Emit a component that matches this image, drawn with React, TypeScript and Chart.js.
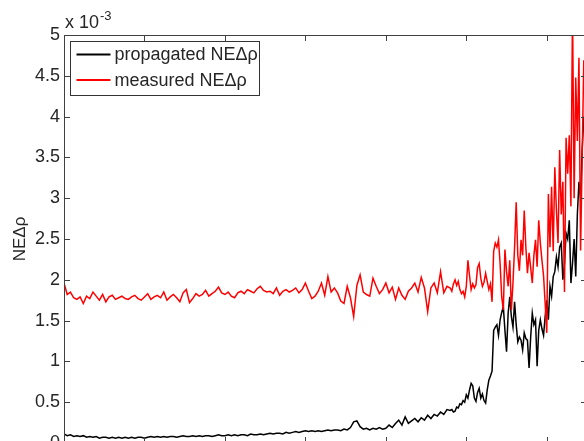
import React, { useEffect, useRef } from "react";
import { Chart, registerables } from "chart.js";

Chart.register(...registerables);

// Band-index grid: coarse samples every 4 up to 476, dense samples every 2 from 480
const coarseStep = 4;
const coarseCount = 120;
const denseStart = 480;
const denseStep = 2;

// measured NEΔρ (x 10^-3)
const measuredNE = [
  1.96, 1.82, 1.85, 1.78, 1.76, 1.79, 1.71, 1.80, 1.77, 1.85,
  1.80, 1.75, 1.82, 1.73, 1.79, 1.81, 1.76, 1.78, 1.80, 1.77,
  1.76, 1.79, 1.81, 1.77, 1.75, 1.79, 1.83, 1.76, 1.79, 1.81,
  1.78, 1.85, 1.75, 1.79, 1.82, 1.78, 1.73, 1.84, 1.88, 1.72,
  1.77, 1.83, 1.80, 1.82, 1.87, 1.80, 1.83, 1.86, 1.91, 1.84,
  1.82, 1.85, 1.80, 1.78, 1.84, 1.86, 1.83, 1.88, 1.86, 1.84,
  1.89, 1.92, 1.87, 1.85, 1.86, 1.83, 1.90, 1.81, 1.86, 1.88,
  1.85, 1.87, 1.90, 1.84, 1.88, 1.96, 1.86, 1.77, 1.80, 1.86,
  1.96, 1.81, 2.04, 1.85, 1.90, 1.84, 1.74, 1.71, 1.92, 1.78,
  1.55, 1.93, 2.06, 1.85, 1.82, 1.80, 2.02, 1.92, 1.83, 1.88,
  1.96, 1.84, 1.91, 1.76, 1.90, 1.81, 1.76, 1.86, 1.90, 1.96,
  1.85, 2.03, 1.90, 1.61, 1.90, 1.96, 1.84, 2.10, 1.84, 1.92,
  // dense part
  1.90, 1.86, 1.95, 2.00, 1.93, 1.98, 1.88, 1.83, 1.86, 1.79,
  1.92, 2.24, 2.05, 1.88, 1.95, 1.90, 1.94, 2.15, 2.20, 2.02,
  1.92, 1.97, 2.08, 1.98, 1.88, 1.95, 1.73, 2.35, 2.45, 2.40,
  2.49, 2.20, 1.79, 1.63, 2.37, 2.10, 1.92, 2.24, 1.63, 1.96,
  2.40, 2.95, 2.30, 2.11, 2.49, 2.30, 2.85, 2.40, 2.08, 2.33,
  2.15, 1.96, 2.30, 2.49, 2.16, 2.73, 2.45, 2.24, 2.05, 1.71,
  1.35, 3.05, 2.40, 3.14, 2.35, 3.38, 2.85, 2.45, 3.59, 2.80,
  3.20, 1.85, 3.74, 3.30, 3.77, 2.90, 5.30, 3.00, 4.48, 3.70,
  4.72, 2.36, 3.50, 4.69, 4.10, 3.60,
];

// propagated NEΔρ (x 10^-3)
const propagatedNE = [
  0.11, 0.09, 0.10, 0.08, 0.09, 0.08, 0.09, 0.07, 0.08, 0.07,
  0.08, 0.06, 0.07, 0.07, 0.06, 0.07, 0.06, 0.07, 0.06, 0.07,
  0.06, 0.07, 0.06, 0.07, 0.07, 0.06, 0.07, 0.08, 0.07, 0.08,
  0.07, 0.08, 0.07, 0.08, 0.08, 0.07, 0.08, 0.09, 0.08, 0.08,
  0.09, 0.08, 0.09, 0.08, 0.09, 0.09, 0.08, 0.09, 0.10, 0.09,
  0.09, 0.10, 0.09, 0.10, 0.09, 0.10, 0.10, 0.09, 0.11, 0.10,
  0.10, 0.11, 0.10, 0.11, 0.12, 0.11, 0.12, 0.12, 0.11, 0.13,
  0.12, 0.13, 0.14, 0.13, 0.14, 0.15, 0.14, 0.15, 0.14, 0.15,
  0.14, 0.15, 0.16, 0.15, 0.16, 0.16, 0.15, 0.17, 0.16, 0.19,
  0.26, 0.27, 0.20, 0.17, 0.18, 0.16, 0.18, 0.17, 0.19, 0.17,
  0.18, 0.22, 0.19, 0.24, 0.28, 0.22, 0.32, 0.24, 0.27, 0.30,
  0.26, 0.31, 0.28, 0.34, 0.30, 0.35, 0.33, 0.38, 0.35, 0.41,
  // dense part
  0.40, 0.41, 0.38, 0.39, 0.44, 0.43, 0.48, 0.47, 0.52, 0.50,
  0.59, 0.55, 0.65, 0.73, 0.70, 0.55, 0.51, 0.62, 0.67, 0.55,
  0.60, 0.52, 0.49, 0.65, 0.77, 0.82, 0.88, 1.38, 1.42, 1.45,
  1.32, 1.51, 1.60, 1.67, 1.38, 1.12, 1.59, 1.79, 1.55, 1.42,
  1.73, 1.45, 1.24, 1.30, 1.26, 1.14, 1.35, 1.28, 1.26, 0.92,
  1.30, 1.59, 1.45, 1.51, 0.94, 1.38, 1.51, 1.40, 1.32, 1.55,
  1.75, 1.51, 1.92, 1.80, 2.04, 2.10, 2.28, 2.16, 2.40, 2.45,
  2.00, 2.20, 2.57, 2.50, 2.73, 1.96, 2.20, 2.50, 2.04, 2.80,
  3.20, 3.00, 3.60, 4.00, 3.70, 3.50,
];

const xMin = 0;
const xMax = 650;
const xTickStep = 100;
const yMin = 0;
const yMax = 5;
const yTickStep = 0.5;

const seriesLabels = ["propagated NE\u0394\u03c1", "measured NE\u0394\u03c1"];
const seriesColors = ["#000000", "#ff0000"];
const yAxisTitle = "NE\u0394\u03c1";
const exponentBase = "x 10";
const exponentPower = "-3";

const FONT = '"Liberation Sans", Arial, Helvetica, sans-serif';
const TEXT_COLOR = "#262626";
const AXIS_COLOR = "#404040";

const matlabFrame = {
  id: "matlabFrame",
  afterDatasetsDraw(chart: any) {
    const { ctx, chartArea, scales } = chart;
    const { left, right, top, bottom } = chartArea;
    const x = scales.x;
    const y = scales.y;
    const tickLen = 6;
    ctx.save();
    ctx.strokeStyle = AXIS_COLOR;
    ctx.lineWidth = 1;
    ctx.beginPath();
    ctx.rect(Math.round(left) + 0.5, Math.round(top) + 0.5, Math.round(right - left), Math.round(bottom - top));
    ctx.stroke();
    ctx.beginPath();
    x.ticks.forEach((t: any) => {
      const px = Math.round(x.getPixelForValue(t.value)) + 0.5;
      ctx.moveTo(px, bottom);
      ctx.lineTo(px, bottom - tickLen);
      ctx.moveTo(px, top);
      ctx.lineTo(px, top + tickLen);
    });
    y.ticks.forEach((t: any) => {
      const py = Math.round(y.getPixelForValue(t.value)) + 0.5;
      ctx.moveTo(left, py);
      ctx.lineTo(left + tickLen, py);
      ctx.moveTo(right, py);
      ctx.lineTo(right - tickLen, py);
    });
    ctx.stroke();

    // exponent label
    ctx.fillStyle = TEXT_COLOR;
    ctx.textAlign = "left";
    ctx.textBaseline = "alphabetic";
    ctx.font = `18px ${FONT}`;
    ctx.fillText(exponentBase, left + 1, top - 7);
    const w = ctx.measureText(exponentBase).width;
    ctx.font = `13px ${FONT}`;
    ctx.fillText(exponentPower, left + 1 + w + 1, top - 15);

    // legend
    const lx = left + 6.5;
    const ly = top + 6.5;
    const lw = 189;
    const lh = 54;
    ctx.fillStyle = "#ffffff";
    ctx.fillRect(lx, ly, lw, lh);
    ctx.strokeStyle = "#333333";
    ctx.lineWidth = 1;
    ctx.strokeRect(lx, ly, lw, lh);
    ctx.font = `18px ${FONT}`;
    ctx.textBaseline = "middle";
    seriesLabels.forEach((lab, i) => {
      const rowY = ly + 13 + i * 25.5;
      ctx.strokeStyle = seriesColors[i];
      ctx.lineWidth = 2;
      ctx.beginPath();
      ctx.moveTo(lx + 6, rowY);
      ctx.lineTo(lx + 40, rowY);
      ctx.stroke();
      ctx.fillStyle = TEXT_COLOR;
      ctx.fillText(lab, lx + 44, rowY + 1);
    });
    ctx.restore();
  },
};

export default function App() {
  const canvasRef = useRef<HTMLCanvasElement | null>(null);

  useEffect(() => {
    document.body.style.margin = "0";
    document.body.style.overflow = "hidden";
    const canvas = canvasRef.current;
    if (!canvas) return;
    const sampleX = measuredNE.map((_, i) =>
      i < coarseCount ? i * coarseStep : denseStart + (i - coarseCount) * denseStep
    );
    const chart = new Chart(canvas, {
      type: "line",
      data: {
        datasets: [
          {
            label: seriesLabels[1],
            data: measuredNE.map((v, i) => ({ x: sampleX[i], y: v })),
            borderColor: seriesColors[1],
            borderWidth: 1.5,
            pointRadius: 0,
            tension: 0,
          },
          {
            label: seriesLabels[0],
            data: propagatedNE.map((v, i) => ({ x: sampleX[i], y: v })),
            borderColor: seriesColors[0],
            borderWidth: 1.5,
            pointRadius: 0,
            tension: 0,
          },
        ],
      },
      options: {
        responsive: false,
        animation: false,
        devicePixelRatio: 1,
        layout: { padding: { left: 0, right: 33, top: 35, bottom: 0 } },
        plugins: {
          legend: { display: false },
          tooltip: { enabled: false },
        },
        scales: {
          x: {
            type: "linear",
            min: xMin,
            max: xMax,
            ticks: { display: false, stepSize: xTickStep },
            grid: { display: false },
            border: { display: false },
            afterFit: (s: any) => {
              s.height = 27;
            },
          },
          y: {
            type: "linear",
            min: yMin,
            max: yMax,
            ticks: {
              stepSize: yTickStep,
              padding: 4,
              color: TEXT_COLOR,
              font: { family: FONT, size: 18 },
              callback: (v: any) => String(Number(v)),
            },
            grid: { display: false, drawTicks: false },
            border: { display: false },
            title: {
              display: true,
              text: yAxisTitle,
              color: TEXT_COLOR,
              font: { family: FONT, size: 17 },
              padding: { top: 10, bottom: 0 },
            },
            afterFit: (s: any) => {
              s.width = 64;
            },
          },
        },
      },
      plugins: [matlabFrame],
    });
    return () => chart.destroy();
  }, []);

  return (
    <div style={{ position: "fixed", left: 0, top: 0 }}>
      <canvas ref={canvasRef} width={620} height={470} style={{ display: "block", width: 620, height: 470 }} />
    </div>
  );
}
